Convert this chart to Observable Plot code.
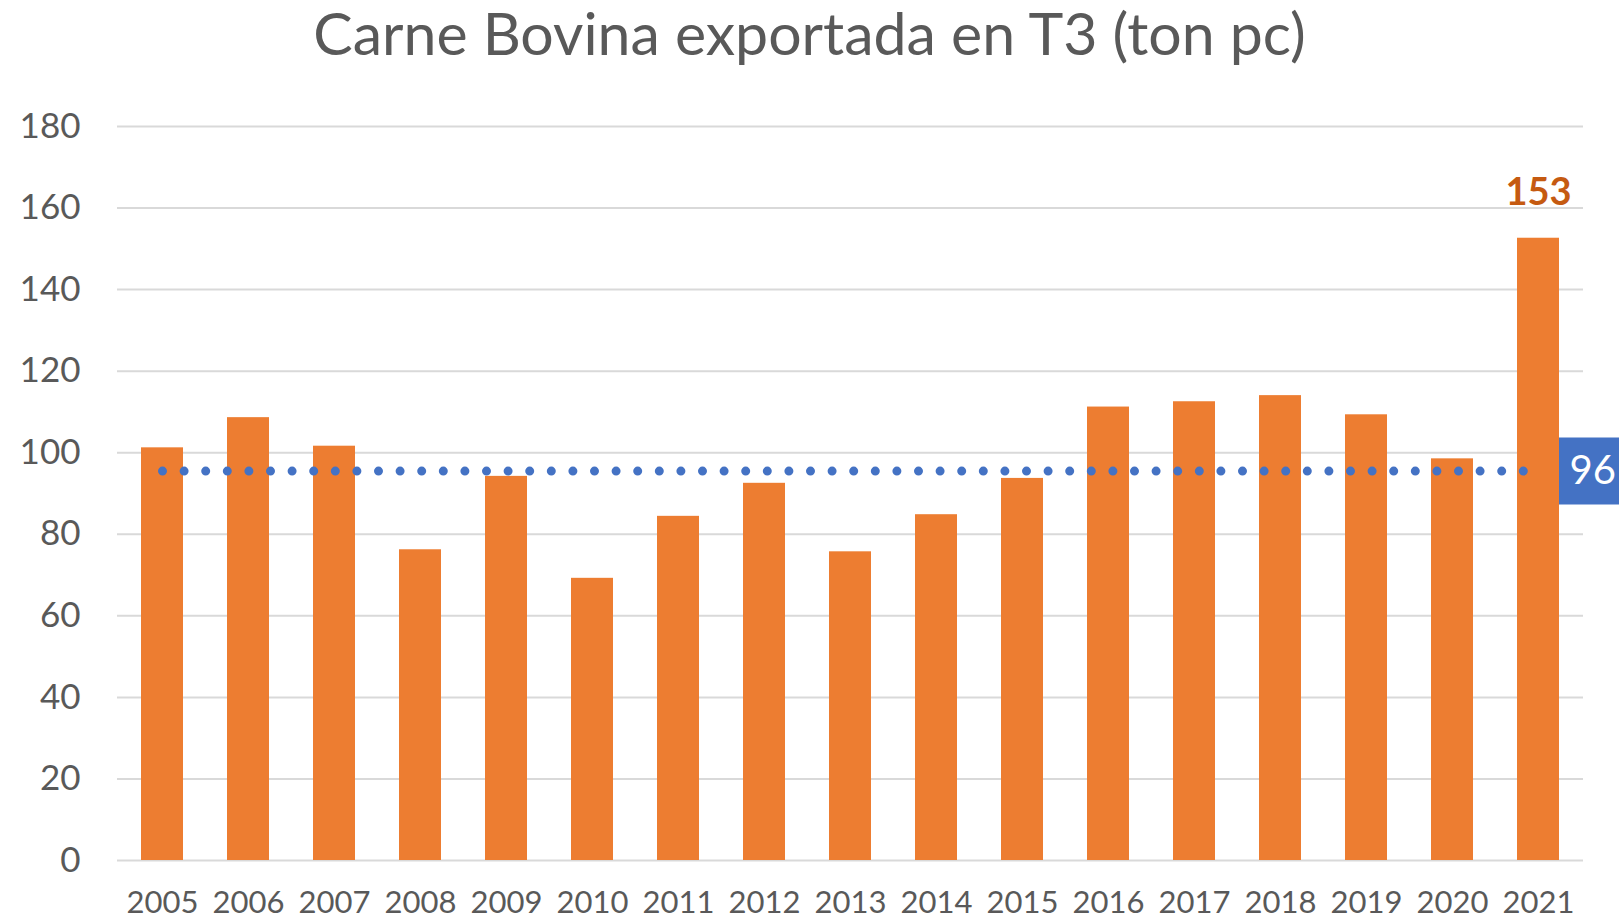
<!DOCTYPE html>
<html>
<head>
<meta charset="utf-8">
<script src="https://cdn.jsdelivr.net/npm/d3@7"></script>
<script src="https://cdn.jsdelivr.net/npm/@observablehq/plot@0.6"></script>
<style>
  html, body { margin: 0; padding: 0; background: #fff; overflow: hidden; }
  #title { height: 68px; line-height: 66px; text-align: center; font-family: Lato, sans-serif; font-size: 59px; color: #595959; white-space: nowrap; }
  #chart svg { display: block; }
</style>
</head>
<body>
<div id="title">Carne Bovina exportada en T3 (ton pc)</div>
<div id="chart"></div>
<script>
const years = ["2005","2006","2007","2008","2009","2010","2011","2012","2013","2014","2015","2016","2017","2018","2019","2020","2021"];
const values = [101.2, 108.6, 101.6, 76.2, 94.2, 69.2, 84.4, 92.5, 75.7, 84.8, 93.7, 111.2, 112.5, 114.0, 109.3, 98.5, 152.6];
const promedio = 95.5;
const yTicks = [0, 20, 40, 60, 80, 100, 120, 140, 160, 180];
const lastYear = years[years.length - 1];
const lastValue = 153;

const data = years.map((y, i) => ({year: y, value: values[i]}));

const chart = Plot.plot({
  width: 1619,
  height: 856,
  marginTop: 58,
  marginBottom: 64,
  marginLeft: 117,
  marginRight: 36,
  style: {fontFamily: "Lato, sans-serif", background: "#fff"},
  x: {domain: years, paddingInner: 0.51, paddingOuter: 0.255, label: null},
  y: {domain: [0, 180], ticks: yTicks, label: null},
  marks: [
    Plot.gridY(yTicks, {stroke: "#d9d9d9", strokeOpacity: 1, strokeWidth: 2}),
    Plot.axisY(yTicks, {tickSize: 0, tickPadding: 37, fontSize: 35, color: "#595959", label: null}),
    Plot.axisX({tickSize: 0, tickPadding: 30, fontSize: 31, color: "#595959", label: null}),
    Plot.barY(data, {x: "year", y: "value", fill: "#ED7D31"}),
    Plot.lineY(years, {x: d => d, y: () => promedio, stroke: "#4472C4", strokeWidth: 9, strokeLinecap: "round", strokeDasharray: "0 21.6"}),
    Plot.dot([promedio], {x: () => lastYear, y: d => d, symbol: "square", r: 37.8, fill: "#4472C4", dx: 54}),
    Plot.text([promedio], {x: () => lastYear, y: d => d, text: d => d3.format(".0f")(d), fill: "white", fontSize: 40, textAnchor: "start", dx: 31}),
    Plot.text([lastValue], {x: () => lastYear, y: d => d, text: d => String(d), fill: "#C55A11", fontSize: 38, fontWeight: "bold", dy: -44})
  ]
});
document.getElementById("chart").appendChild(chart);
</script>
</body>
</html>
